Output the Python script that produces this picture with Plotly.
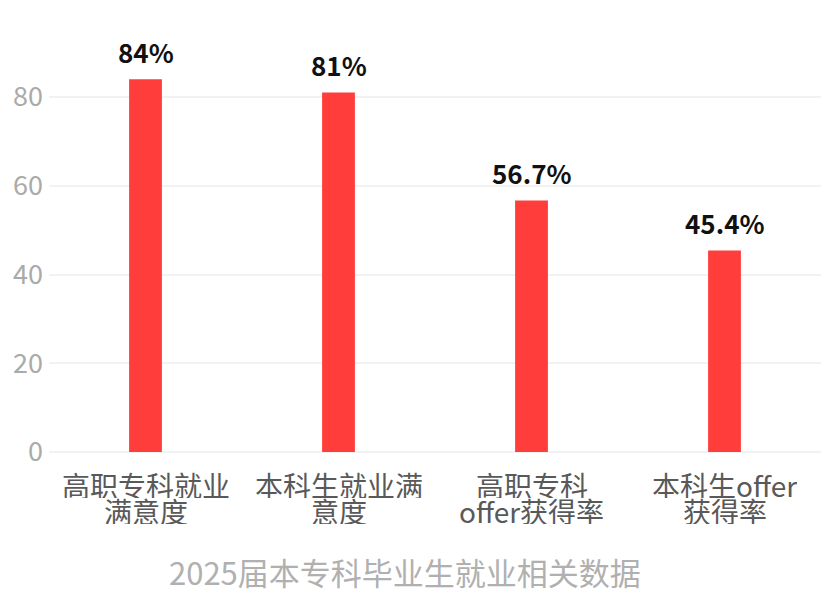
import plotly.graph_objects as go

categories = ["高职专科就业满意度", "本科生就业满意度", "高职专科offer获得率", "本科生offer获得率"]
label_line1 = ["高职专科就业", "本科生就业满", "高职专科", "本科生offer"]
label_line2 = ["满意度", "意度", "offer获得率", "获得率"]
values = [84, 81, 56.7, 45.4]
value_labels = ["84%", "81%", "56.7%", "45.4%"]
x_title = "2025届本专科毕业生就业相关数据"

FONT = "Noto Sans CJK SC"

fig = go.Figure(go.Bar(
    x=categories, y=values,
    marker=dict(color="#ff3d3a", line=dict(width=0)),
    cliponaxis=False,
))

annotations = []
for c, v, t in zip(categories, values, value_labels):
    annotations.append(dict(x=c, y=v, xref="x", yref="y", text=t, showarrow=False,
                            yanchor="middle", yshift=28,
                            font=dict(family=FONT, size=26, color="#111111", weight="bold")))
for c, l1, l2 in zip(categories, label_line1, label_line2):
    annotations.append(dict(x=c, y=0, xref="x", yref="paper", text=l1, showarrow=False,
                            yanchor="middle", yshift=-33, height=26, valign="middle",
                            font=dict(family=FONT, size=28, color="#595959")))
    annotations.append(dict(x=c, y=0, xref="x", yref="paper", text=l2, showarrow=False,
                            yanchor="middle", yshift=-59, height=26, valign="middle",
                            font=dict(family=FONT, size=28, color="#595959")))
annotations.append(dict(x=0.461, y=0, xref="paper", yref="paper", text=x_title, showarrow=False,
                        yanchor="middle", yshift=-119,
                        font=dict(family=FONT, size=31, color="#b0b0b0")))

fig.update_layout(
    width=832, height=598,
    margin=dict(l=41, r=19, t=22, b=154),
    plot_bgcolor="white", paper_bgcolor="white",
    bargap=0.83,
    showlegend=False,
    font=dict(family=FONT),
    annotations=annotations,
    xaxis=dict(
        showticklabels=False,
        showgrid=False, showline=False, ticks="", automargin=False,
    ),
    yaxis=dict(
        range=[0, 95.1],
        tickvals=[0, 20, 40, 60, 80],
        tickfont=dict(family=FONT, size=27, color="#aaaaaa"),
        showgrid=True, gridcolor="#f2f2f2", gridwidth=1.5,
        zeroline=True, zerolinecolor="#f2f2f2", zerolinewidth=1.5,
        showline=False, ticks="", ticklabelstandoff=5, automargin=False,
    ),
)

fig.write_html("out.html")
